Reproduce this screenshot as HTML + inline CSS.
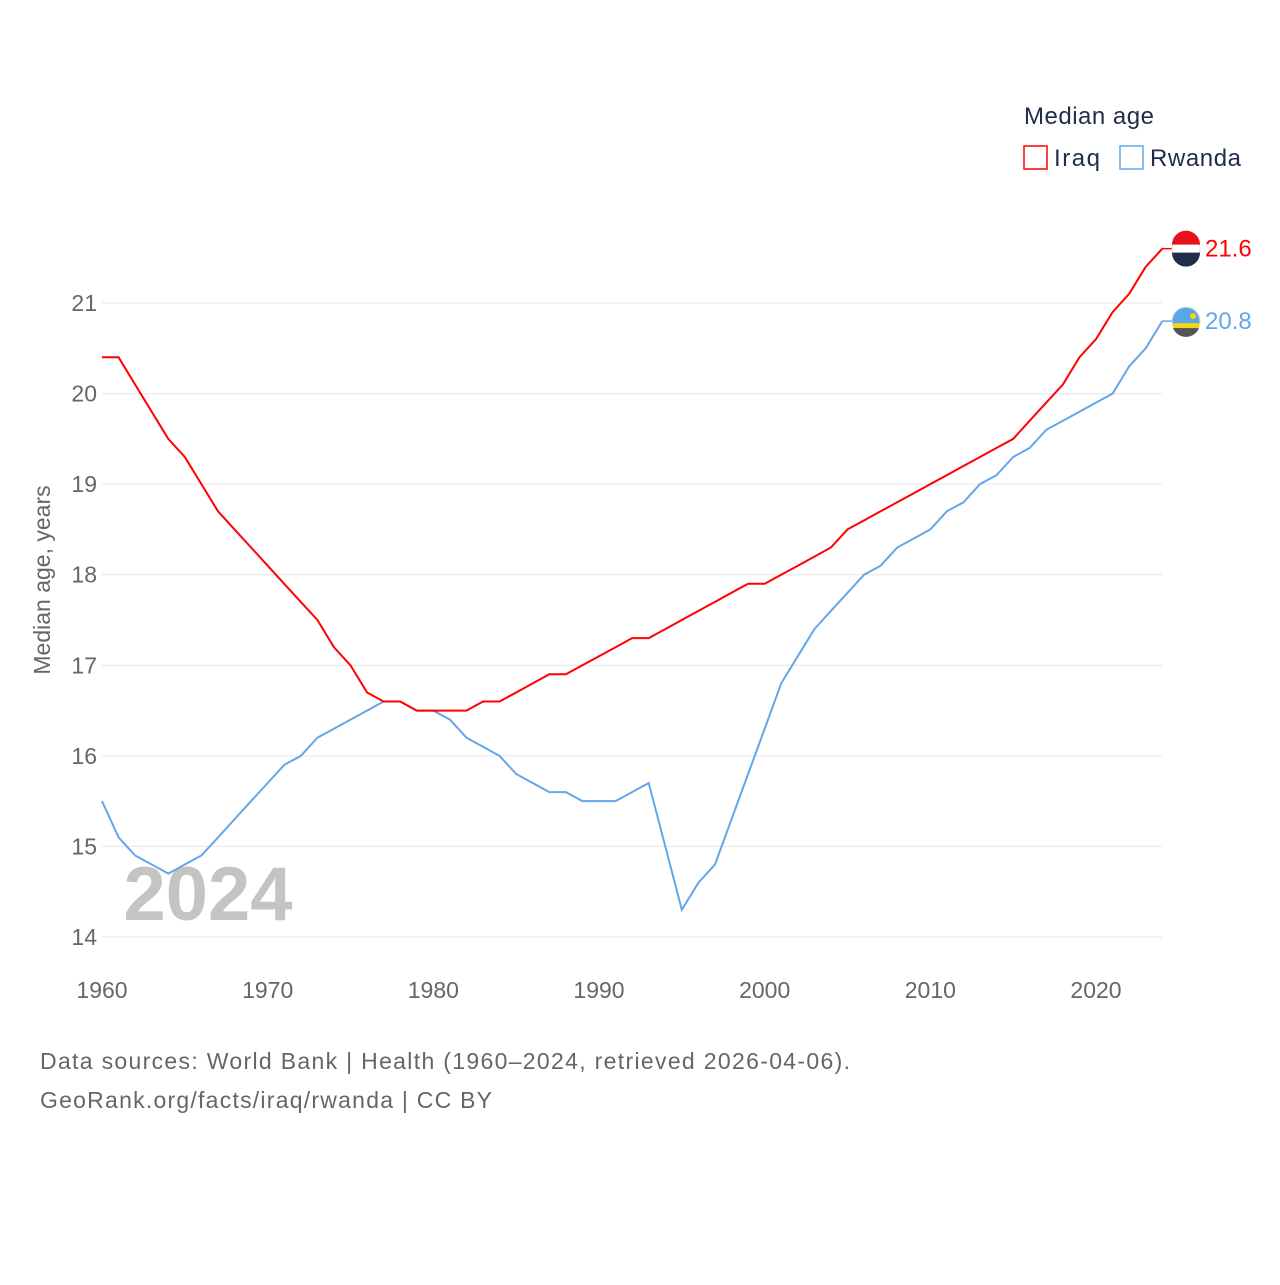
<!DOCTYPE html>
<html><head><meta charset="utf-8"><style>
body{margin:0;background:#fff;font-family:"Liberation Sans",sans-serif;}
svg text{font-family:"Liberation Sans",sans-serif;}
</style></head><body>
<svg id="chart" width="1280" height="1280" viewBox="0 0 1280 1280">
<g id="grid"></g>
<g id="xticks"></g>
<g id="yticks"></g>
<text x="208" y="920" font-size="76" font-weight="bold" fill="#c4c4c4" text-anchor="middle">2024</text>
<text transform="translate(50,580) rotate(-90)" font-size="23" fill="#666" text-anchor="middle">Median age, years</text>
<g id="lines"></g>
<g>
<text x="1024" y="124" font-size="24" fill="#1f2d4a" textLength="130">Median age</text>
<g><rect x="1024" y="146" width="23" height="23" fill="none" stroke="#ff0000" stroke-width="1.5"/><text x="1054" y="166" font-size="24" fill="#1f2d4a" textLength="46">Iraq</text></g>
<g><rect x="1120" y="146" width="23" height="23" fill="none" stroke="#64a6e8" stroke-width="1.5"/><text x="1150" y="166" font-size="24" fill="#1f2d4a" textLength="91">Rwanda</text></g>
</g>
<text x="40" y="1069" font-size="23" fill="#666" textLength="810">Data sources: World Bank | Health (1960–2024, retrieved 2026-04-06).</text>
<text x="40" y="1108" font-size="23" fill="#666" textLength="452">GeoRank.org/facts/iraq/rwanda | CC BY</text>
</svg>
<script>
const years=[];for(let y=1960;y<=2024;y++)years.push(y);
const iraq=[20.4,20.4,20.1,19.8,19.5,19.3,19.0,18.7,18.5,18.3,18.1,17.9,17.7,17.5,17.2,17.0,16.7,16.6,16.6,16.5,16.5,16.5,16.5,16.6,16.6,16.7,16.8,16.9,16.9,17.0,17.1,17.2,17.3,17.3,17.4,17.5,17.6,17.7,17.8,17.9,17.9,18.0,18.1,18.2,18.3,18.5,18.6,18.7,18.8,18.9,19.0,19.1,19.2,19.3,19.4,19.5,19.7,19.9,20.1,20.4,20.6,20.9,21.1,21.4,21.6];
const rwanda=[15.5,15.1,14.9,14.8,14.7,14.8,14.9,15.1,15.3,15.5,15.7,15.9,16.0,16.2,16.3,16.4,16.5,16.6,16.6,16.5,16.5,16.4,16.2,16.1,16.0,15.8,15.7,15.6,15.6,15.5,15.5,15.5,15.6,15.7,15.0,14.3,14.6,14.8,15.3,15.8,16.3,16.8,17.1,17.4,17.6,17.8,18.0,18.1,18.3,18.4,18.5,18.7,18.8,19.0,19.1,19.3,19.4,19.6,19.7,19.8,19.9,20.0,20.3,20.5,20.8];
const yTicks=[14,15,16,17,18,19,20,21];
const xTicks=[1960,1970,1980,1990,2000,2010,2020];
const X=y=>102+(y-1960)*(994/60);
const Y=v=>937-(v-14)*(634/7);
const NS="http://www.w3.org/2000/svg";
function mk(t,a,p){const e=document.createElementNS(NS,t);for(const k in a)e.setAttribute(k,a[k]);p.appendChild(e);return e;}
const grid=document.getElementById('grid'),yt=document.getElementById('yticks'),xt=document.getElementById('xticks'),ln=document.getElementById('lines');
yTicks.forEach(v=>{
 const l=mk('line',{x1:102,x2:1162,y1:Y(v),y2:Y(v),stroke:'#e6e6e6','stroke-width':1},grid);
 
 
 const t=mk('text',{x:97,y:Y(v)+8,'font-size':23,fill:'#666','text-anchor':'end'},yt);t.textContent=v;
 
 
});
xTicks.forEach(v=>{
 const t=mk('text',{x:X(v),y:998,'font-size':23,fill:'#666','text-anchor':'middle'},xt);t.textContent=v;
 
 
});
function series(vals,color,name){
 const d=vals.map((v,i)=>(i?'L':'M')+X(years[i]).toFixed(1)+','+Y(v).toFixed(1)).join('');
 const p=mk('path',{d:d,fill:'none',stroke:color,'stroke-width':2},ln);
 
 
 const last=vals[vals.length-1],ly=Y(last);
 mk('line',{x1:1162,x2:1172,y1:ly,y2:ly,stroke:color,'stroke-width':1.5},ln);
 const c=mk('circle',{cx:1186,cy:ly,r:14,fill:name==='iraq'?'#fff':'#5aa6e8',stroke:'#ddd'},ln);
 
 
 if(name==='iraq'){mk('path',{d:`M1172,${ly-4}A14,14 0 0 1 1200,${ly-4}Z`,fill:'#e8111c'},ln);mk('path',{d:`M1172,${ly+4}A14,14 0 0 0 1200,${ly+4}Z`,fill:'#1f2d4a'},ln);}
 else{mk('rect',{x:1173,y:ly+2,width:26,height:5,fill:'#f6d417'},ln);mk('path',{d:`M1173,${ly+7}A14,14 0 0 0 1199,${ly+7}Z`,fill:'#555'},ln);mk('circle',{cx:1193,cy:ly-5,r:3,fill:'#f6d417'},ln);}
 const t=mk('text',{x:1205,y:ly+8,'font-size':24,fill:color},ln);t.textContent=last.toFixed(1);
 
 
}
series(rwanda,'#64a6e8','rwanda');
series(iraq,'#ff0000','iraq');
</script>
</body></html>
